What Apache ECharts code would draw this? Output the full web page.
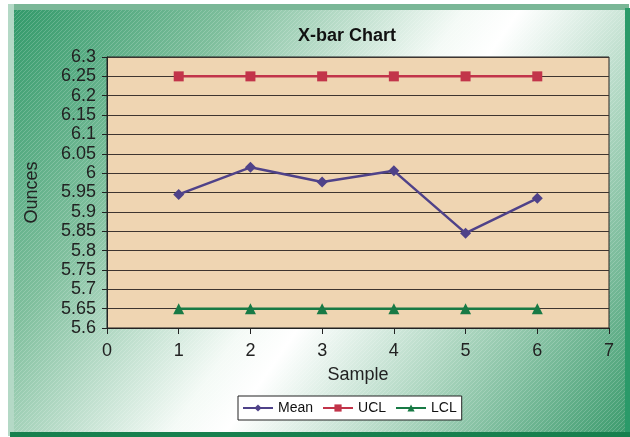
<!DOCTYPE html>
<html>
<head>
<meta charset="utf-8">
<script src="https://cdn.jsdelivr.net/npm/echarts@6/dist/echarts.min.js"></script>
<style>
html,body{margin:0;padding:0;background:#fff;}
#c{width:630px;height:437px;}
</style>
</head>
<body>
<div id="c"></div>
<script>
var samples = [1, 2, 3, 4, 5, 6];
var meanValues = [5.945, 6.015, 5.977, 6.006, 5.845, 5.935];
var uclValues = [6.25, 6.25, 6.25, 6.25, 6.25, 6.25];
var lclValues = [5.65, 5.65, 5.65, 5.65, 5.65, 5.65];
var seriesNames = ['Mean', 'UCL', 'LCL'];

function pairs(vals) { return samples.map(function (s, i) { return [s, vals[i]]; }); }

// hatch pattern
var pc = document.createElement('canvas');
pc.width = 4; pc.height = 4;
var pctx = pc.getContext('2d');
pctx.strokeStyle = 'rgba(255,255,255,0.18)';
pctx.lineWidth = 1;
pctx.beginPath();
pctx.moveTo(0, 4); pctx.lineTo(4, 0);
pctx.moveTo(-1, 1); pctx.lineTo(1, -1);
pctx.moveTo(3, 5); pctx.lineTo(5, 3);
pctx.stroke();

var chart = echarts.init(document.getElementById('c'), null, {renderer: 'canvas'});
var font = '"Liberation Sans", Arial, sans-serif';
chart.setOption({
  animation: false,
  backgroundColor: '#ffffff',
  graphic: [
    {type: 'rect', z: -10, silent: true, shape: {x: 8, y: 4, width: 621, height: 432},
      style: {fill: new echarts.graphic.LinearGradient(0, 0, 1, 1, [
        {offset: 0, color: '#2f9868'},
        {offset: 0.25, color: '#7fbf9d'},
        {offset: 0.5, color: '#f4faf6'},
        {offset: 0.56, color: '#ffffff'},
        {offset: 0.75, color: '#a9d4bd'},
        {offset: 1, color: '#3a9a6c'}
      ])}},
    {type: 'rect', z: -9, silent: true, shape: {x: 8, y: 4, width: 621, height: 432},
      style: {fill: {image: pc, repeat: 'repeat'}}},
    {type: 'rect', z: -8, silent: true, shape: {x: 8, y: 4, width: 621, height: 6}, style: {fill: '#7ab797'}},
    {type: 'rect', z: -8, silent: true, shape: {x: 8, y: 4, width: 6, height: 432}, style: {fill: '#b4d9c6'}},
    {type: 'rect', z: -8, silent: true, shape: {x: 625, y: 8, width: 5, height: 429}, style: {fill: '#2a9a69'}},
    {type: 'rect', z: -8, silent: true, shape: {x: 10, y: 432, width: 620, height: 5}, style: {fill: '#17804e'}}
  ],
  title: {
    text: 'X-bar Chart', left: 293, top: 22,
    textStyle: {fontFamily: font, fontSize: 18, fontWeight: 'bold', color: '#111'}
  },
  legend: {
    data: seriesNames, left: 238, top: 396,
    padding: [5, 5, 5, 4], itemGap: 9, itemWidth: 30, itemHeight: 9,
    backgroundColor: '#ffffff', borderColor: '#222', borderWidth: 1,
    textStyle: {fontFamily: font, fontSize: 14, color: '#111'}
  },
  grid: {
    left: 107, right: 21, top: 57, bottom: 109, containLabel: false,
    show: true, backgroundColor: '#efd5b2', borderColor: '#222', borderWidth: 1
  },
  xAxis: {
    type: 'value', min: 0, max: 7, interval: 1,
    name: 'Sample', nameLocation: 'middle', nameGap: 38,
    nameTextStyle: {fontFamily: font, fontSize: 18, color: '#222'},
    axisLine: {show: true, lineStyle: {color: '#222', width: 1}},
    axisTick: {show: true, length: 6, lineStyle: {color: '#222'}},
    axisLabel: {fontFamily: font, fontSize: 18, color: '#222', margin: 14},
    splitLine: {show: false}
  },
  yAxis: {
    type: 'value', min: 5.6, max: 6.3, interval: 0.05,
    name: 'Ounces', nameLocation: 'middle', nameGap: 66, nameRotate: 90,
    nameTextStyle: {fontFamily: font, fontSize: 18, color: '#222'},
    axisLine: {show: true, lineStyle: {color: '#222', width: 1}},
    axisTick: {show: true, length: 5, lineStyle: {color: '#222'}},
    axisLabel: {fontFamily: font, fontSize: 18, color: '#222', margin: 11,
      formatter: function (v) { return String(parseFloat(v.toFixed(2))); }},
    splitLine: {show: true, lineStyle: {color: '#3e3530', width: 1}}
  },
  series: [
    {name: 'Mean', type: 'line', data: pairs(meanValues), symbol: 'diamond', symbolSize: 11,
      color: '#4f4289', lineStyle: {width: 2.5, color: '#4f4289'}, itemStyle: {color: '#4f4289'}},
    {name: 'UCL', type: 'line', data: pairs(uclValues), symbol: 'rect', symbolSize: 10,
      color: '#c2344a', lineStyle: {width: 2.5, color: '#c2344a'}, itemStyle: {color: '#c2344a'}},
    {name: 'LCL', type: 'line', data: pairs(lclValues), symbol: 'triangle', symbolSize: 11,
      color: '#187a45', lineStyle: {width: 2.5, color: '#187a45'}, itemStyle: {color: '#187a45'}}
  ]
});
</script>
</body>
</html>
